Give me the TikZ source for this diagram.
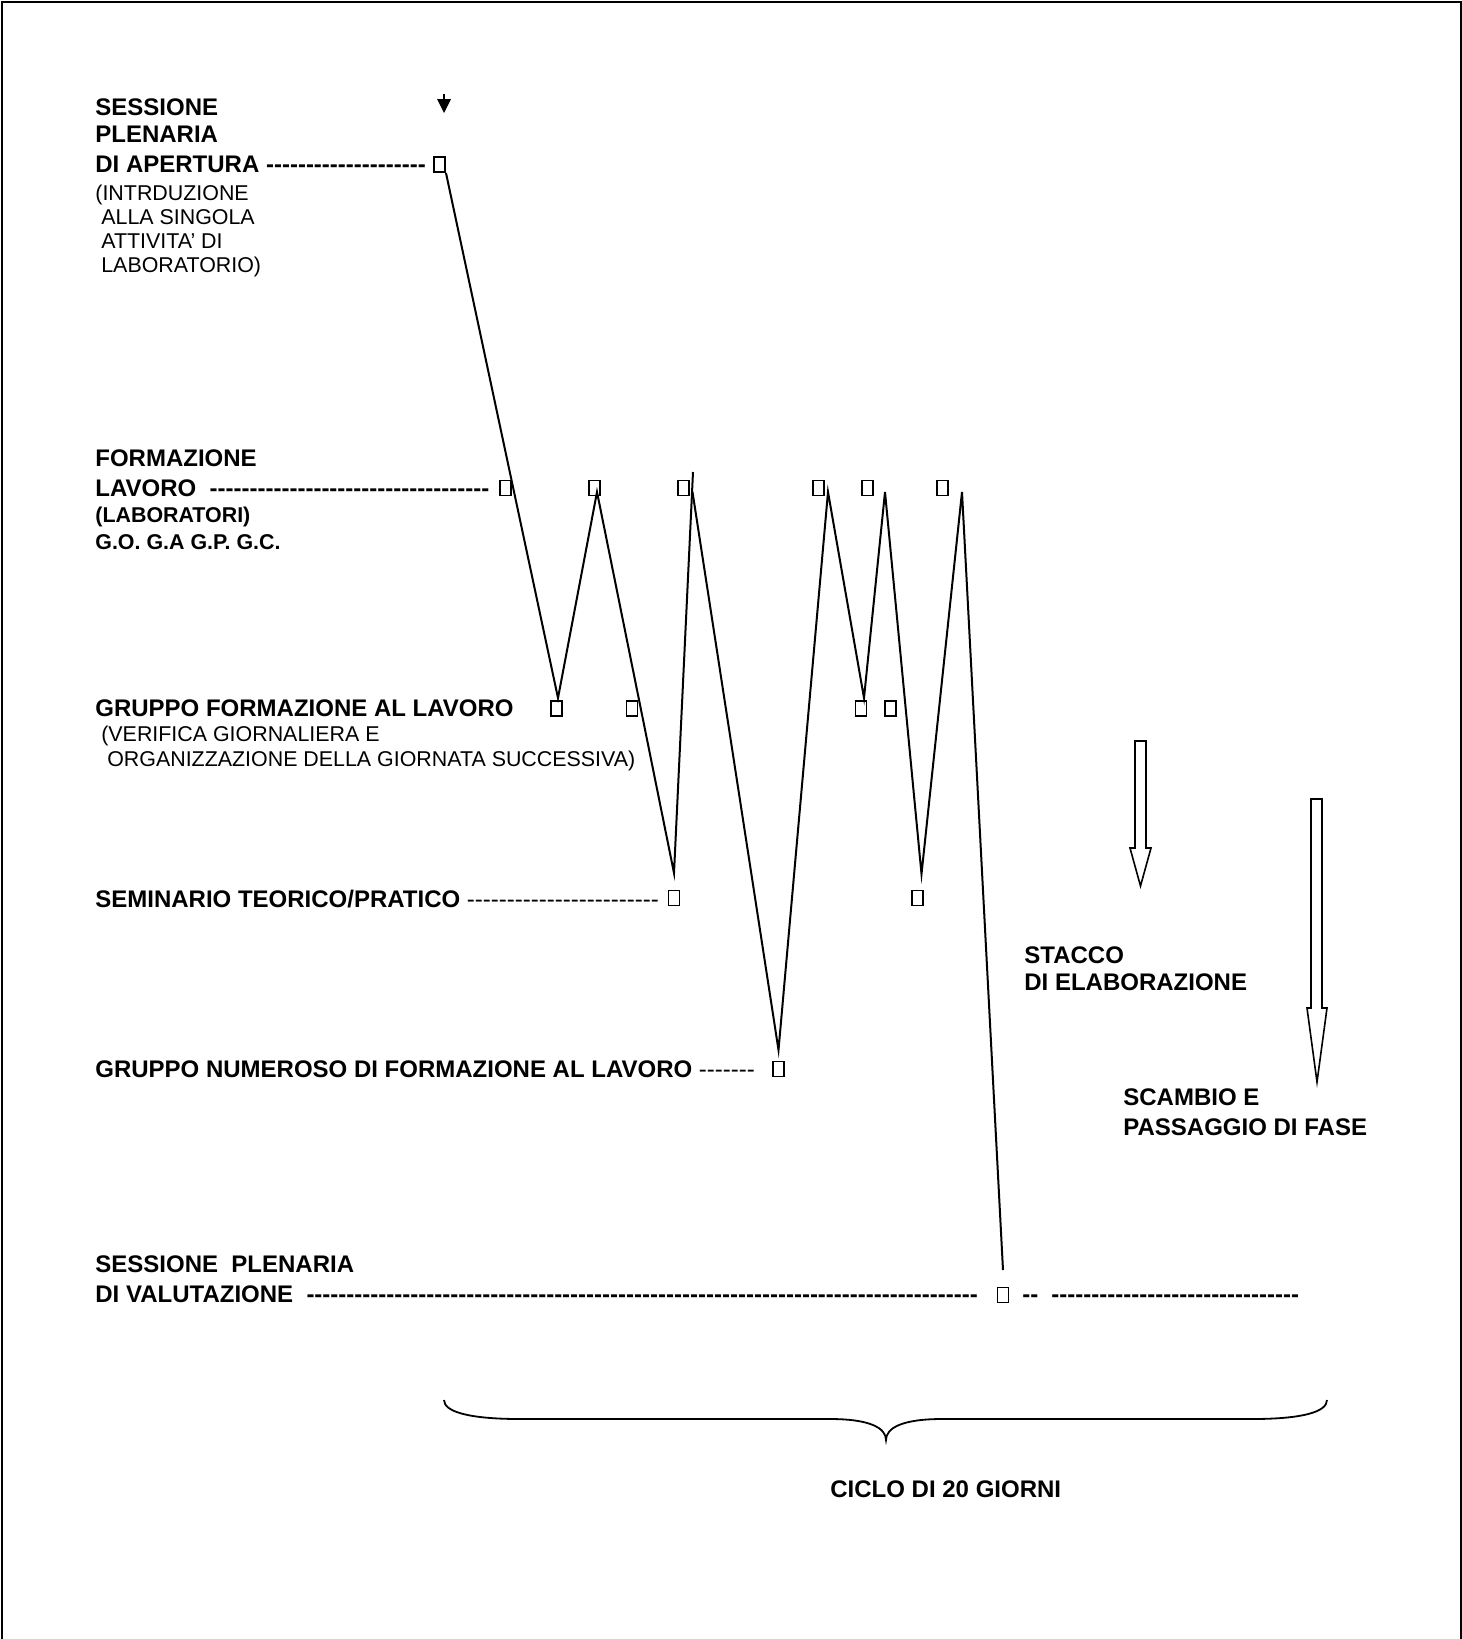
\documentclass[tikz,border=0pt]{standalone}
\usepackage{fontspec}
\setmainfont{Liberation Sans}
\ExplSyntaxOn
\cs_new:Npn \dashrun #1 {\prg_replicate:nn{#1}{-{}}}
\ExplSyntaxOff
\begin{document}
\begin{tikzpicture}[x=0.5pt,y=-0.5pt,
  bt/.style={anchor=base west, inner sep=0pt, font=\fontsize{12}{14}\selectfont\bfseries},
  rt/.style={anchor=base west, inner sep=0pt, font=\fontsize{10.7}{13}\selectfont},
  bs/.style={anchor=base west, inner sep=0pt, font=\fontsize{10.7}{13}\selectfont\bfseries},
  sq/.style={draw, line width=0.9pt, minimum width=5.5pt, minimum height=7.5pt, inner sep=0pt},
  zz/.style={line width=1pt},
  blk/.style={draw, line width=0.8pt, fill=white}]
\useasboundingbox (0,0) rectangle (1462,1639);
% frame
\draw[line width=1pt] (1.5,1639) -- (1.5,1.5) -- (1460.5,1.5) -- (1460.5,1639);

% opening
\node[bt] (ta1) at (95,115.2) {SESSIONE};
\node[bt] (ta2) at (95,142.4) {PLENARIA};
\node[bt] (ta3) at (95,172.6) {DI APERTURA \dashrun{20}};
\node[rt] (ta4) at (95,200) {(INTRDUZIONE};
\node[rt] (ta5) at (95,224) {\ ALLA SINGOLA};
\node[rt] (ta6) at (95,248.1) {\ ATTIVITA’ DI};
\node[rt] (ta7) at (95,272.1) {\ LABORATORIO)};
\node[sq] (sa) at (439.5,164.5) {};
\draw[line width=1pt] (444,94) -- (444,100);
\fill (437,99) -- (451,99) -- (444,113) -- cycle;

% formazione lavoro
\node[bt] (tb1) at (95,466.3) {FORMAZIONE};
\node[bt] (tb2) at (95,496.6) {LAVORO\ \ \dashrun{35}};
\node[bs] (tb3) at (95,522.9) {(LABORATORI)};
\node[bs] (tb4) at (95,549) {G.O. G.A G.P. G.C.};
\node[sq] (l1) at (505.5,488) {};
\node[sq] (l2) at (594.5,488) {};
\node[sq] (l3) at (683.5,488) {};
\node[sq] (l4) at (818.5,488) {};
\node[sq] (l5) at (867.5,488) {};
\node[sq] (l6) at (942.5,488) {};

% gruppo formazione
\node[bt] (tc1) at (95,716.1) {GRUPPO FORMAZIONE AL LAVORO};
\node[rt] (tc2) at (95,741.3) {\ (VERIFICA GIORNALIERA E};
\node[rt] (tc3) at (95,766.4) {\ \ ORGANIZZAZIONE DELLA GIORNATA SUCCESSIVA)};
\node[sq] (g1) at (556.5,708.5) {};
\node[sq] (g2) at (632,708.5) {};
\node[sq] (g3) at (861,708.5) {};
\node[sq] (g4) at (890.5,708.5) {};

% seminario
\node[bt] (td1) at (95,907.3) {SEMINARIO TEORICO/PRATICO {\mdseries\dashrun{24}}};
\node[sq] (s1) at (674,898) {};
\node[sq] (s2) at (917.5,898) {};

% gruppo numeroso
\node[bt] (te1) at (95,1077.6) {GRUPPO NUMEROSO DI FORMAZIONE AL LAVORO {\mdseries\dashrun{7}}};
\node[sq] (n1) at (778.5,1069) {};

% valutazione
\node[bt] (tf1) at (95,1272) {SESSIONE\ \ PLENARIA};
\node[bt] (tf2) at (95,1302.3) {DI VALUTAZIONE\ \ \dashrun{84}};
\node[sq] (v1) at (1003,1295) {};
\node[bt] (tf3) at (1022,1302.3) {\dashrun{2}};
\node[bt] (tf4) at (1051,1302.3) {\dashrun{31}};

% zigzag
\coordinate (p0) at (446,173);
\coordinate (p1) at (558,698);
\coordinate (p2) at (597,492);
\coordinate (p3) at (674,873);
\coordinate (p4) at (693,472);
\coordinate (p4b) at (692.5,492);
\coordinate (p5) at (778.5,1050);
\coordinate (p6) at (828,492);
\coordinate (p7) at (864,698);
\coordinate (p8) at (885,492);
\coordinate (p9) at (921.5,874);
\coordinate (p10) at (962,492);
\coordinate (p11) at (1003,1270);
\draw[zz] (p0) -- (p1) -- (p2) -- (p3) -- (p4);
\draw[zz] (p4b) -- (p5) -- (p6) -- (p7) -- (p8) -- (p9) -- (p10) -- (p11);

% block arrows
\draw[blk] (1135,741) -- (1146,741) -- (1146,848) -- (1151,848) -- (1140.5,886) -- (1130,848) -- (1135,848) -- cycle;
\draw[blk] (1311,799) -- (1322,799) -- (1322,1008) -- (1327,1008) -- (1317,1082) -- (1307,1008) -- (1311,1008) -- cycle;
\node[bt] (tg1) at (1024,963.7) {STACCO};
\node[bt] (tg2) at (1024,990.9) {DI ELABORAZIONE};
\node[bt] (th1) at (1123,1105.9) {SCAMBIO E};
\node[bt] (th2) at (1123,1135.1) {PASSAGGIO DI FASE};

% brace
\draw[line width=0.9pt] (444,1400) .. controls (444,1412) and (470,1419) .. (520,1419) -- (830,1419)
  .. controls (870,1419) and (886,1428) .. (886,1440)
  .. controls (886,1428) and (902,1419) .. (942,1419) -- (1252,1419)
  .. controls (1302,1419) and (1327,1412) .. (1327,1400);
\node[bt] (ti1) at (830,1497.6) {CICLO DI 20 GIORNI};
\end{tikzpicture}
\end{document}
